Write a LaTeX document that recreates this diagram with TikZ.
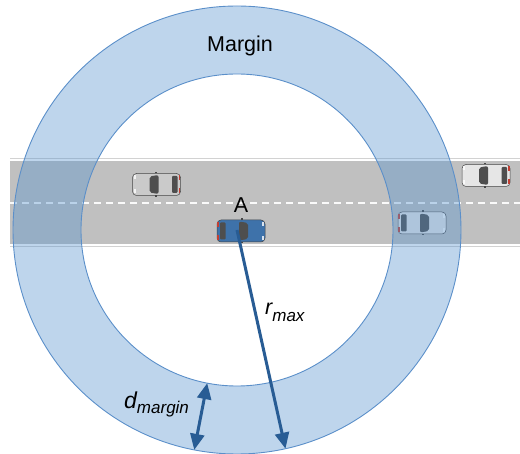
\documentclass[tikz,border=0pt]{standalone}
\usepackage{fontspec}
\setmainfont{Liberation Sans}
\usetikzlibrary{arrows.meta}

\definecolor{ringfill}{RGB}{84,145,206}
\definecolor{ringline}{RGB}{91,143,201}
\definecolor{roadgray}{RGB}{192,192,192}
\definecolor{roadline}{RGB}{210,210,210}
\definecolor{arrowblue}{RGB}{40,92,148}
\definecolor{egoblue}{RGB}{62,114,170}
\definecolor{cargray}{RGB}{202,202,202}
\definecolor{carwhite}{RGB}{230,230,230}
\definecolor{carglass}{RGB}{78,78,78}
\definecolor{cardark}{RGB}{70,70,70}
\definecolor{carred}{RGB}{196,62,50}

\tikzset{
  pics/car/.style={code={
    \draw[cardark, line width=0.5pt, fill=#1, rounded corners=4pt] (-24,-11) rectangle (24,11);
    \fill[carred] (-23.6,-9) rectangle (-22.2,-4);
    \fill[carred] (-23.6,4) rectangle (-22.2,9);
    \fill[carglass, rounded corners=1pt] (-21,-8.5) rectangle (-15.5,8.5);
    \fill[carglass, rounded corners=2pt] (-2,-9.5) -- (-2,9.5) -- (7,8) -- (7,-8) -- cycle;
    \fill[white, opacity=0.8] (21,-9) rectangle (23,-5);
    \fill[white, opacity=0.8] (21,5) rectangle (23,9);
    \fill[cardark] (0,11) rectangle (2,12.5);
    \fill[cardark] (0,-12.5) rectangle (2,-11);
  }},
  ringedge/.style={ringline, line width=0.9pt},
  dimarrow/.style={arrowblue, line width=3pt, -{Triangle[length=16pt,width=14pt]}},
  dimboth/.style={dimarrow, {Triangle[length=16pt,width=14pt]}-{Triangle[length=16pt,width=14pt]}},
  lbl/.style={inner sep=0pt, font=\fontsize{21.5}{24}\selectfont}
}

\begin{document}
\begin{tikzpicture}[x=1pt, y=1pt]
  \useasboundingbox (0,0) rectangle (520,453);
  \coordinate (O) at (237,223);

  % road
  \fill[roadgray] (10,208.5) rectangle (520,291.5);
  \draw[roadline, line width=1pt] (10,294) -- (520,294);
  \draw[roadline, line width=1pt] (10,206) -- (520,206);
  \draw[white!92!roadgray, line width=1.5pt, dash pattern=on 7pt off 5pt] (10,250) -- (520,250);

  % vehicles
  \pic (ego) at (241,222) {car=egoblue};
  \pic[rotate=180] (car1) at (156.5,268.5) {car=cargray};
  \pic[rotate=180] (car2) at (486,277.5) {car=carwhite};
  \pic (car3) at (422,230) {car=carwhite};

  % margin ring
  \fill[ringfill, fill opacity=0.38, even odd rule] (O) circle (224) (O) circle (156);
  \draw[ringedge] (O) circle (224);
  \draw[ringedge] (O) circle (156);

  \path (O) ++(-77.5:224) coordinate (rtip);
  \path (O) ++(-101:156) coordinate (din);
  \path (O) ++(-101:224) coordinate (dout);
  \draw[dimarrow] (O) -- (rtip);
  \draw[dimboth] (din) -- (dout);

  \node[lbl, anchor=base] (margin) at (240,401) {Margin};
  \node[lbl, anchor=base] (lblA) at (241,240) {A};
  \node[lbl, anchor=base west] (rmax) at (265,138)
    {\itshape r\raisebox{-7pt}{\fontsize{17}{19}\selectfont max}};
  \node[lbl, anchor=base west] (dmargin) at (124,44)
    {\fontsize{23}{26}\selectfont\itshape d\raisebox{-5pt}{\fontsize{17}{19}\selectfont margin}};
\end{tikzpicture}
\end{document}
